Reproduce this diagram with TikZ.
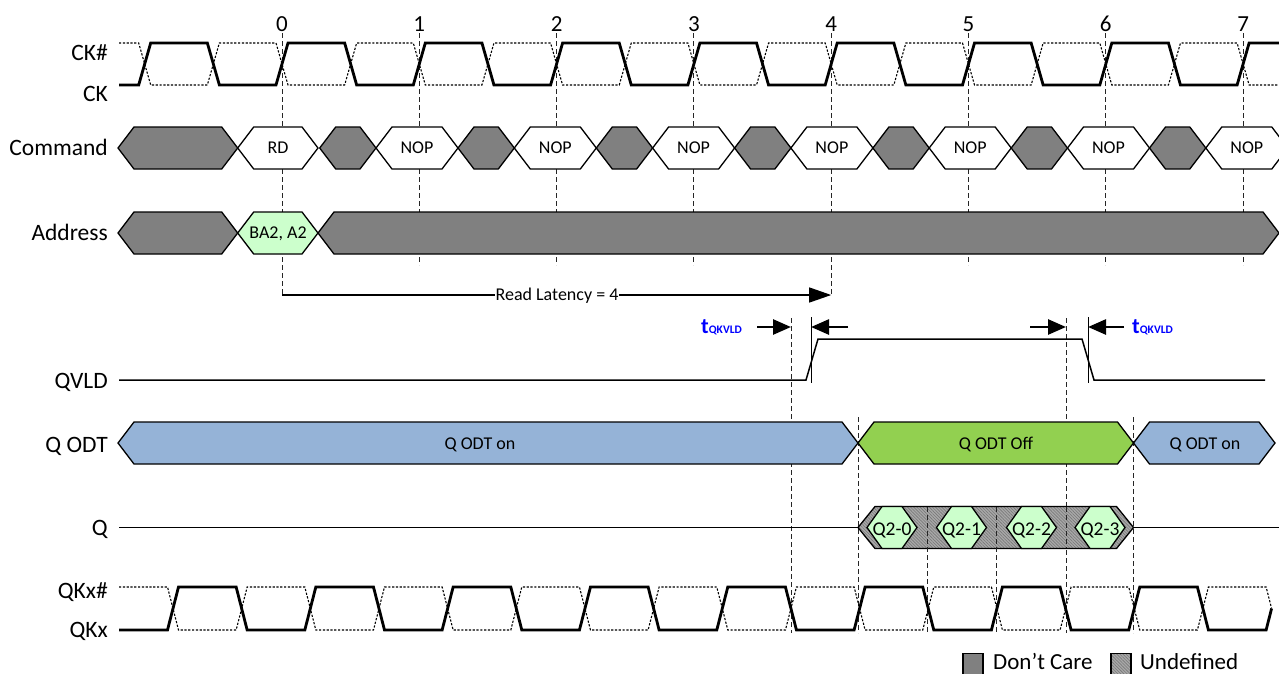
\documentclass[tikz,border=0pt]{standalone}
\usepackage{fontspec}
\setmainfont{Carlito}
\usetikzlibrary{arrows.meta,patterns.meta}
\definecolor{dcgray}{RGB}{128,128,128}
\definecolor{lgreen}{RGB}{204,255,204}
\definecolor{odton}{RGB}{149,179,215}
\definecolor{odtoff}{RGB}{146,208,80}
\definecolor{hatchbg}{RGB}{168,168,168}
\definecolor{hatchfg}{RGB}{120,120,120}
\definecolor{tblue}{RGB}{0,0,255}
\newcommand{\bushex}[5]{\draw[#1] (#2,#4) -- ++(#5,-21) -- ({#3-#5},{#4-21}) -- (#3,#4) -- ({#3-#5},{#4+21}) -- ({#2+#5},{#4+21}) -- cycle;}
\begin{document}
\begin{tikzpicture}[x=1pt,y=-1pt,
  lab/.style={anchor=base east,inner sep=0pt,font=\fontsize{23.5}{28}\selectfont},
  num/.style={anchor=base,inner sep=0pt,font=\fontsize{23}{27}\selectfont},
  bustxt/.style={anchor=base,inner sep=0pt,font=\fontsize{18}{22}\selectfont},
  qtxt/.style={anchor=base,inner sep=0pt,font=\fontsize{19.5}{23}\selectfont},
  legtxt/.style={anchor=base west,inner sep=0pt,text depth=0pt,font=\fontsize{23}{27}\selectfont},
  busline/.style={draw=black,line width=1.3pt,line join=miter},
  dcare/.style={busline,fill=dcgray},
  val/.style={busline,fill=white},
  valg/.style={busline,fill=lgreen},
  onband/.style={busline,fill=odton},
  offband/.style={busline,fill=odtoff},
  hatch/.style={busline,preaction={fill=hatchbg},preaction={pattern={Lines[angle=-45,distance=2.2pt,line width=0.6pt]},pattern color=hatchfg}},
  clk/.style={line width=2.8pt,line join=miter},
  clkn/.style={line width=1.1pt,dash pattern=on 2.2pt off 1.6pt},
  vdash/.style={draw=black!85,line width=0.9pt,dash pattern=on 5pt off 3pt},
  sig/.style={line width=1.5pt,line join=miter},
  tarrow/.style={line width=2.6pt,-{Triangle[length=18pt,width=15pt]}},
  tq/.style={anchor=base west,inner sep=0pt,text=tblue}
]
\useasboundingbox (0,0) rectangle (1279,673);

% ---- clock edge reference lines
\foreach \n in {1,2,3,5,6,7} \draw[vdash] ({282+137.3*\n},33) -- ({282+137.3*\n},265);
\draw[vdash] (282,33) -- (282,295);
\draw[vdash] (831.2,33) -- (831.2,295);

% ---- CK / CK#
\draw[clkn] (119,43) \foreach \n in {0,...,7}{ -- ({144.7+137.3*\n-6},43) -- ({144.7+137.3*\n+6},85) -- ({213.35+137.3*\n-6},85) -- ({213.35+137.3*\n+6},43) } -- (1237.1,43) -- (1249.1,85) -- (1285,85);
\draw[clk] (119,85) \foreach \n in {0,...,7}{ -- ({144.7+137.3*\n-6},85) -- ({144.7+137.3*\n+6},43) -- ({213.35+137.3*\n-6},43) -- ({213.35+137.3*\n+6},85) } -- (1237.1,85) -- (1249.1,43) -- (1285,43);

% ---- Command bus
\bushex{dcare}{118}{237.7}{148}{16}
\bushex{val}{237.7}{318}{148}{16}
\node[bustxt] (rd) at (278,153.8) {RD};
\foreach \n in {1,...,7}{
  \pgfmathsetmacro\L{237.7+138.3*\n}
  \bushex{dcare}{\L-56.3}{\L}{148}{16}
  \bushex{val}{\L}{\L+82}{148}{16}
  \node[bustxt] (nop\n) at (\L+41,153.8) {NOP};
}

% ---- Address bus
\bushex{dcare}{118}{237.7}{233}{16}
\bushex{valg}{237.7}{318}{233}{16}
\node[bustxt] (ba) at (278,238.8) {BA2, A2};
\bushex{dcare}{318}{1279}{233}{16}

% ---- Read latency
\coordinate (rl0) at (282,295);
\coordinate (rl1) at (831.2,295);
\draw[line width=1.3pt,-{Triangle[length=22pt,width=15pt]}] (rl0) -- (rl1);
\node[anchor=base,fill=white,inner xsep=0.5pt,inner ysep=1pt,font=\fontsize{18}{22}\selectfont] (rlt) at (557,300.8) {Read Latency = 4};

% ---- long dashed lines (QK edges)
\draw[vdash] (791,318) -- (791,633);
\draw[vdash] (1066,318) -- (1066,633);
\draw[vdash] (858,417) -- (858,633);
\draw[vdash] (1133.5,417) -- (1133.5,633);

% ---- QVLD
\draw[sig] (119,380) -- (806,380) -- (818,339) -- (1082,339) -- (1094,380) -- (1265,380);
\draw[line width=1pt] (811,317) -- (811,383);
\draw[line width=1pt] (1088,317) -- (1088,383);
\coordinate (a1s) at (757,327); \coordinate (a1e) at (791,327);
\coordinate (a2s) at (848,327); \coordinate (a2e) at (811,327);
\coordinate (a3s) at (1030,327); \coordinate (a3e) at (1066,327);
\coordinate (a4s) at (1124,327); \coordinate (a4e) at (1088,327);
\draw[tarrow] (a1s) -- (a1e);
\draw[tarrow] (a2s) -- (a2e);
\draw[tarrow] (a3s) -- (a3e);
\draw[tarrow] (a4s) -- (a4e);
\node[tq] (tq1) at (701,333) {{\fontsize{22}{22}\selectfont\bfseries t}\raisebox{-0.5pt}{\fontsize{11.5}{11.5}\selectfont\bfseries QKVLD}};
\node[tq] (tq2) at (1132,333) {{\fontsize{22}{22}\selectfont\bfseries t}\raisebox{-0.5pt}{\fontsize{11.5}{11.5}\selectfont\bfseries QKVLD}};

% ---- Q ODT
\bushex{onband}{118}{858}{443}{16}
\bushex{offband}{858}{1133.5}{443}{16}
\bushex{onband}{1133.5}{1275}{443}{16}
\node[bustxt] (odt1) at (480,449.5) {Q ODT on};
\node[bustxt] (odt2) at (996,449.5) {Q ODT Off};
\node[bustxt] (odt3) at (1205,449.5) {Q ODT on};

% ---- Q
\draw[sig] (119,527.5) -- (858,527.5);
\draw[sig] (1133.5,527.5) -- (1285,527.5);
\bushex{hatch}{858}{1133.5}{527.5}{17}
\draw[vdash] (927,507) -- (927,633);
\draw[vdash] (996,507) -- (996,633);
\draw[vdash] (1066,507) -- (1066,548);
\foreach \c/\t [count=\i] in {892/Q2-0,961.5/Q2-1,1031.5/Q2-2,1100/Q2-3}{
  \bushex{valg}{\c-25}{\c+25}{527.5}{15}
  \node[qtxt] (qd\i) at (\c,535) {\t};
}

% ---- QKx / QKx#
\draw[clkn] (119,587) \foreach \n in {0,...,7}{ -- ({173+137.32*\n-5.5},587) -- ({173+137.32*\n+5.5},630) -- ({241.66+137.32*\n-5.5},630) -- ({241.66+137.32*\n+5.5},587) } -- (1266.1,587) -- (1271.6,608.5);
\draw[clk] (119,630) \foreach \n in {0,...,7}{ -- ({173+137.32*\n-5.5},630) -- ({173+137.32*\n+5.5},587) -- ({241.66+137.32*\n-5.5},587) -- ({241.66+137.32*\n+5.5},630) } -- (1266.1,630) -- (1271.6,608.5);

% ---- labels
\node[lab] (lckn) at (108,60) {CK\#};
\node[lab] (lck) at (108,101.7) {CK};
\node[lab] (lcmd) at (108,155.5) {Command};
\node[lab] (ladr) at (108,240.5) {Address};
\node[lab] (lqvld) at (108,388) {QVLD};
\node[lab] (lodt) at (108,452) {Q ODT};
\node[lab] (lq) at (108,535) {Q};
\node[lab] (lqkn) at (108,598.5) {QKx\#};
\node[lab] (lqk) at (108,637.5) {QKx};
\foreach \n in {0,...,7} \node[num] (t\n) at ({282+137.3*\n},31) {\n};

% ---- legend
\draw[line width=1.3pt,fill=dcgray] (963,653.5) rectangle (983,676);
\node[legtxt] (lg1) at (993,669.5) {Don’t Care};
\draw[hatch] (1111,653.5) rectangle (1131,676);
\node[legtxt] (lg2) at (1140,669.5) {Undefined};
\end{tikzpicture}
\end{document}
